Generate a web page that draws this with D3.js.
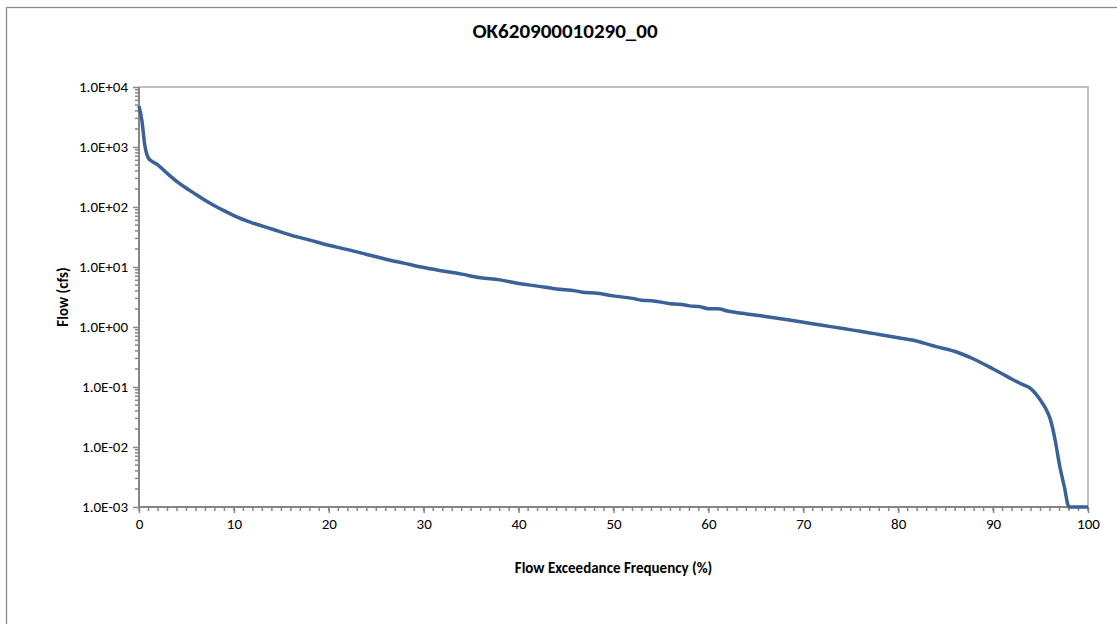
<!DOCTYPE html>
<html><head><meta charset="utf-8">
<script src="https://cdn.jsdelivr.net/npm/d3@7"></script>
<style>body{margin:0;background:#fff}svg{display:block}</style>
</head><body>
<svg id="c" width="1117" height="624"></svg>
<script>
const title = "OK620900010290_00";
const xLabel = "Flow Exceedance Frequency (%)";
const yLabel = "Flow (cfs)";
const exceedance = [0,0.3,0.6,1,1.5,2,3,4,5,6,7,8,9,10,12,14,16,18,20,22,24,26,28,30,32,34,36,38,40,42,44,46,47,48,50,52,53,54,56,57,58,59,60,61,62,64,66,68,70,72,74,76,78,80,82,84,86,88,90,91,92,93,94,95,95.5,96,96.5,97,97.5,98,99,100];
const flow = [4800,2800,1100,650,560,500,360,265,205,162,128,104,86,72,54,43,34,28,23,19.5,16.2,13.5,11.5,9.8,8.6,7.6,6.6,6.1,5.3,4.8,4.3,4.0,3.75,3.7,3.3,3.0,2.8,2.75,2.45,2.4,2.25,2.2,2.02,2.02,1.85,1.65,1.5,1.35,1.2,1.07,0.95,0.85,0.75,0.66,0.58,0.47,0.39,0.29,0.2,0.165,0.135,0.112,0.093,0.06,0.045,0.03,0.014,0.005,0.0022,0.001,0.001,0.001];
const xTicks = [0,10,20,30,40,50,60,70,80,90,100];
const yTicks = [1e-3,1e-2,1e-1,1,10,100,1000,10000];
const yTickLabels = ["1.0E-03","1.0E-02","1.0E-01","1.0E+00","1.0E+01","1.0E+02","1.0E+03","1.0E+04"];

const svg = d3.select("#c");
const L=139,R=1088,T=87,B=507;
const x = d3.scaleLinear().domain([0,100]).range([L,R]);
const y = d3.scaleLog().domain([1e-3,1e4]).range([B,T]);
const font = "Carlito, Calibri, 'Open Sans', sans-serif";

// outer border
svg.append("rect").attr("x",6.5).attr("y",7.5).attr("width",1200).attr("height",700)
  .attr("fill","none").attr("stroke","#8c8c8c").attr("stroke-width",1.3);

// plot border top/right
svg.append("path").attr("d",`M${L},${T}H${R}V${B}`).attr("fill","none").attr("stroke","#c0c0c0").attr("stroke-width",2);

// minor ticks
const yMinor=[];
for(let e=-3;e<4;e++) for(let m=2;m<=9;m++) yMinor.push(m*Math.pow(10,e));
svg.append("g").selectAll("line").data(yMinor).join("line")
  .attr("x1",L-4).attr("x2",L).attr("y1",d=>y(d)).attr("y2",d=>y(d))
  .attr("stroke","#868686").attr("stroke-width",1.5);
svg.append("g").selectAll("line").data(d3.range(0,101,1)).join("line")
  .attr("x1",d=>x(d)).attr("x2",d=>x(d)).attr("y1",B).attr("y2",B+4)
  .attr("stroke","#868686").attr("stroke-width",1.5);

// axes
const yAxis = d3.axisLeft(y).tickValues(yTicks).tickFormat((d,i)=>yTickLabels[i]).tickSize(6).tickPadding(5);
const gy = svg.append("g").attr("transform",`translate(${L},0)`).call(yAxis);
const xAxis = d3.axisBottom(x).tickValues(xTicks).tickFormat(d3.format("d")).tickSize(6).tickPadding(5);
const gx = svg.append("g").attr("transform",`translate(0,${B})`).call(xAxis);
[gx,gy].forEach(g=>{
  g.select(".domain").attr("stroke","#868686").attr("stroke-width",2);
  g.selectAll(".tick line").attr("stroke","#868686").attr("stroke-width",1.5);
  g.selectAll("text").attr("font-family",font).attr("font-size",15).attr("fill","#000");
});
gy.select(".domain").attr("d",`M0,${T}V${B}`);
gx.select(".domain").attr("d",`M${L},0H${R}`);

// line
const data = exceedance.map((d,i)=>[d,flow[i]]);
svg.append("path").datum(data)
  .attr("d",d3.line().x(d=>x(d[0])).y(d=>y(d[1])).curve(d3.curveMonotoneX))
  .attr("fill","none").attr("stroke","#3a6298").attr("stroke-width",3.5).attr("stroke-linejoin","round");

// titles
svg.append("text").attr("x",565).attr("y",38).attr("text-anchor","middle")
  .attr("font-family",font).attr("font-weight","bold").attr("font-size",21).text(title);
svg.append("text").attr("x",(L+R)/2).attr("y",573).attr("text-anchor","middle")
  .attr("font-family",font).attr("font-weight","bold").attr("font-size",15).text(xLabel);
svg.append("text").attr("transform",`translate(68,${(T+B)/2}) rotate(-90)`).attr("text-anchor","middle")
  .attr("font-family",font).attr("font-weight","bold").attr("font-size",15).text(yLabel);
</script>
</body></html>
